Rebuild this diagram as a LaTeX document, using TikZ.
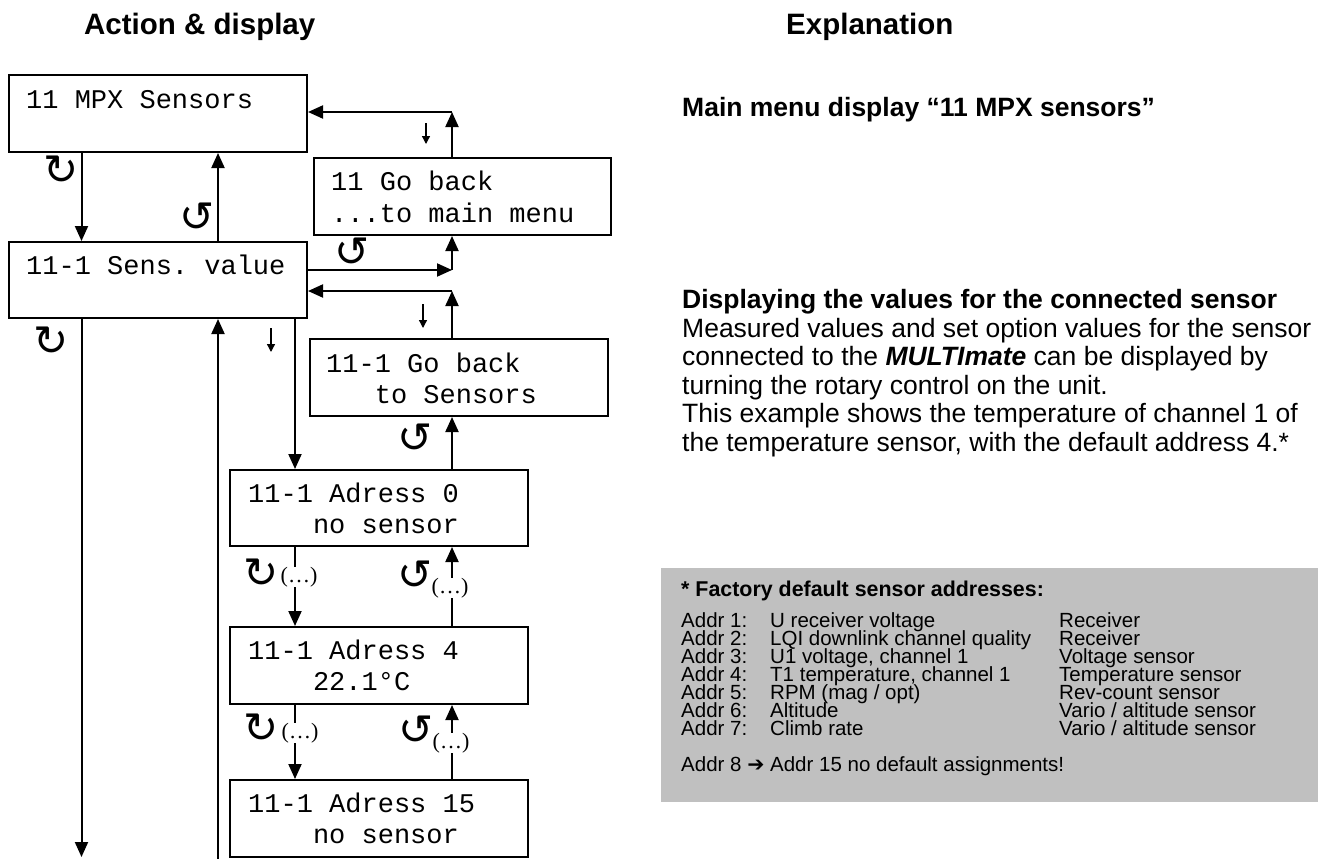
\documentclass[tikz,border=0pt]{standalone}
\usepackage{fontspec}
\setmainfont{Liberation Sans}
\newfontfamily\monofont{Liberation Mono}
\newfontfamily\dotsfont{Liberation Serif}
\newfontfamily\symfont{DejaVu Sans}
\usetikzlibrary{arrows.meta}
\definecolor{graybox}{HTML}{C0C0C0}
\frenchspacing
\tikzset{
  dispbox/.style={draw, line width=2pt, rectangle, anchor=north west, inner sep=0pt, minimum height=77pt, minimum width=298pt},
  boxtxt/.style={anchor=base west, inner sep=0pt, font=\monofont\fontsize{27}{31}\selectfont},
  arr/.style={line width=2pt, -{Triangle[length=15pt,width=13pt]}},
  smallarr/.style={line width=1.3pt, -{Triangle[length=8pt,width=8pt]}},
  rotsym/.style={inner sep=0pt, font=\symfont\fontsize{42}{42}\selectfont},
  dotstxt/.style={inner sep=0.5pt, fill=white, font=\dotsfont\fontsize{22}{22}\selectfont},
  title/.style={anchor=base west, inner sep=0pt, font=\bfseries\fontsize{29.5}{32}\selectfont},
  expbold/.style={anchor=base west, inner sep=0pt, font=\bfseries\fontsize{26.5}{29}\selectfont},
  exptxt/.style={anchor=base west, inner sep=0pt, font=\fontsize{26.5}{29}\selectfont},
  tabtxt/.style={anchor=base west, inner sep=0pt, font=\fontsize{20.5}{18}\selectfont},
}
\begin{document}
\begin{tikzpicture}[x=1pt,y=-1pt]
\useasboundingbox (0,0) rectangle (1318,859);

% titles
\node[title] (t1) at (84,35) {Action \& display};
\node[title] (t2) at (786,35) {Explanation};

% display boxes
\node[dispbox] (mpx) at (8,74) {};
\node[boxtxt] (mpxl1) at (26,109) {11 MPX Sensors};

\node[dispbox, minimum width=297pt] (gb1) at (313,157) {};
\node[boxtxt] (gb1l1) at (331,190) {11 Go back};
\node[boxtxt] (gb1l2) at (331,222) {...to main menu};

\node[dispbox, minimum height=76pt] (sens) at (8,241) {};
\node[boxtxt] (sensl1) at (26,274) {11-1 Sens. value};

\node[dispbox, minimum height=77pt] (gb2) at (309,338) {};
\node[boxtxt] (gb2l1) at (326,372) {11-1 Go back};
\node[boxtxt] (gb2l2) at (326,403) {\phantom{000}to Sensors};

\node[dispbox, minimum height=76pt] (a0) at (229,469) {};
\node[boxtxt] (a0l1) at (248,502) {11-1 Adress 0};
\node[boxtxt] (a0l2) at (248,533) {\phantom{0000}no sensor};

\node[dispbox] (a4) at (229,626) {};
\node[boxtxt] (a4l1) at (248,659) {11-1 Adress 4};
\node[boxtxt] (a4l2) at (248,690) {\phantom{0000}22.1°C};

\node[dispbox] (a15) at (229,779) {};
\node[boxtxt] (a15l1) at (248,812) {11-1 Adress 15};
\node[boxtxt] (a15l2) at (248,843) {\phantom{0000}no sensor};

% columns and corners
\coordinate (cA) at (81.5,0);
\coordinate (cB) at (218,0);
\coordinate (cC) at (452,0);
\coordinate (cD) at (295,0);
\coordinate (k1) at (452,112);
\coordinate (k2) at (452,270);
\coordinate (k3) at (452,291);
\coordinate (e1) at (81.5,857);
\coordinate (e2) at (218,859);

% connectors
\draw[arr] (mpx.south -| cA) -- (sens.north -| cA);
\draw[arr] (sens.north -| cB) -- (mpx.south -| cB);
\draw[arr] (gb1.north -| k1) -- (k1);
\draw[arr] (k1) -- (k1 -| mpx.east);
\draw[arr] (sens.east |- k2) -- (k2);
\draw[arr] (k2) -- (gb1.south -| k2);
\draw[arr] (gb2.north -| k3) -- (k3);
\draw[arr] (k3) -- (sens.east |- k3);
\draw[arr] (a0.north -| cC) -- (gb2.south -| cC);
\draw[arr] (sens.south -| cD) -- (a0.north -| cD);
\draw[arr] (a0.south -| cD) -- (a4.north -| cD);
\draw[arr] (a4.north -| cC) -- (a0.south -| cC);
\draw[arr] (a4.south -| cD) -- (a15.north -| cD);
\draw[arr] (a15.north -| cC) -- (a4.south -| cC);
\draw[arr] (sens.south -| e1) -- (e1);
\draw[arr] (e2) -- (sens.south -| e2);

% small push arrows
\coordinate (s1a) at (426,123); \coordinate (s1b) at (426,144);
\coordinate (s2a) at (423,304); \coordinate (s2b) at (423,328);
\coordinate (s3a) at (271,328); \coordinate (s3b) at (271,352);
\draw[smallarr] (s1a) -- (s1b);
\draw[smallarr] (s2a) -- (s2b);
\draw[smallarr] (s3a) -- (s3b);

% rotation symbols
\node[rotsym] (r1) at (61,170) {↻};
\node[rotsym] (r2) at (197,217) {↺};
\node[rotsym] (r3) at (352,252) {↺};
\node[rotsym] (r4) at (51,341) {↻};
\node[rotsym] (r5) at (415,438) {↺};
\node[rotsym] (r6) at (261,573) {↻};
\node[rotsym] (r7) at (415,575) {↺};
\node[rotsym] (r8) at (261,728) {↻};
\node[rotsym] (r9) at (416,730) {↺};

% (...) labels
\node[dotstxt] (d1) at (299,577) {(…)};
\node[dotstxt] (d2) at (450,588) {(…)};
\node[dotstxt] (d3) at (300,733) {(…)};
\node[dotstxt] (d4) at (451,743) {(…)};

% explanation
\node[expbold] (x1) at (682,117) {Main menu display “11 MPX sensors”};
\node[expbold] (x2) at (682,308) {Displaying the values for the connected sensor};
\node[exptxt] (x3) at (682,337) {Measured values and set option values for the sensor};
\node[exptxt] (x4) at (682,365) {connected to the \textbf{\textit{MULTImate}} can be displayed by};
\node[exptxt] (x5) at (682,394) {turning the rotary control on the unit.};
\node[exptxt] (x6) at (682,422) {This example shows the temperature of channel 1 of};
\node[exptxt] (x7) at (682,451) {the temperature sensor, with the default address 4.*};

% factory defaults box
\node[fill=graybox, anchor=north west, inner sep=0pt, minimum width=657pt, minimum height=234pt] (gray) at (661,568) {};
\node[tabtxt, font=\bfseries\fontsize{21.4}{18}\selectfont] (gh) at (681,596) {* Factory default sensor addresses:};
\foreach \n/\d/\s [count=\i from 0] in {1/{U receiver voltage}/{Receiver},
  2/{LQI downlink channel quality}/{Receiver},
  3/{U1 voltage, channel 1}/{Voltage sensor},
  4/{T1 temperature, channel 1}/{Temperature sensor},
  5/{RPM (mag / opt)}/{Rev-count sensor},
  6/{Altitude}/{Vario / altitude sensor},
  7/{Climb rate}/{Vario / altitude sensor}}{
  \node[tabtxt] (ga\n) at (681,627+18*\i) {Addr \n:};
  \node[tabtxt] (gd\n) at (770,627+18*\i) {\d};
  \node[tabtxt] (gs\n) at (1059,627+18*\i) {\s};
}
\node[tabtxt] (gl) at (681,771) {Addr 8 {\symfont ➔} Addr 15 no default assignments!};
\end{tikzpicture}
\end{document}
